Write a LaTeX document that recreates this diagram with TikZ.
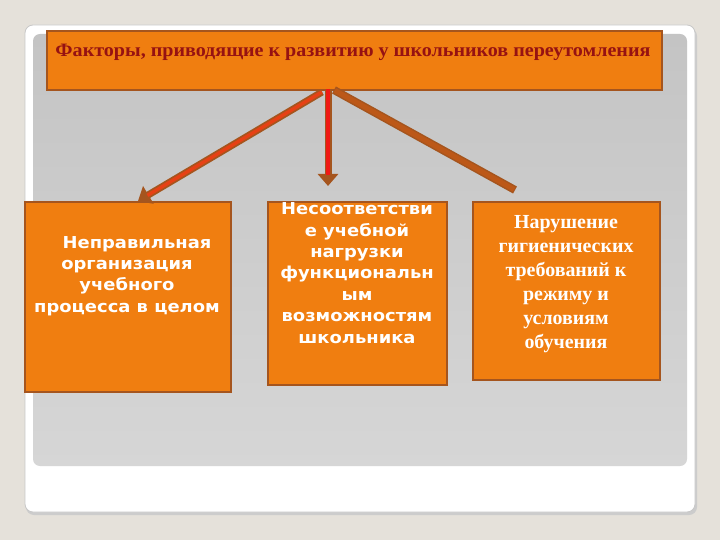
\documentclass[tikz,border=0pt]{standalone}
\usepackage{fontspec}
\setmainfont{Liberation Serif}
\newfontfamily\boxsans[FakeStretch=1.09]{DejaVu Sans}
\newfontfamily\headserif[FakeStretch=1.06]{Liberation Serif}
\usetikzlibrary{arrows.meta}
\definecolor{bgbeige}{RGB}{229,225,218}
\definecolor{cardedge}{RGB}{200,200,200}
\definecolor{paneltop}{RGB}{196,196,196}
\definecolor{panelbot}{RGB}{214,214,214}
\definecolor{orangeF}{RGB}{240,126,16}
\definecolor{edgebrown}{RGB}{165,85,30}
\definecolor{headred}{RGB}{150,18,18}
\definecolor{arrred}{RGB}{240,25,20}
\definecolor{arrorg}{RGB}{230,65,20}
\definecolor{arrbrown}{RGB}{188,88,24}
\tikzset{
  obox/.style={draw=edgebrown, fill=orangeF, line width=2bp, anchor=north west, inner sep=0pt},
  sanstext/.style={text=white, align=center, font=\boxsans\bfseries\fontsize{16.5}{21.5}\selectfont},
  seriftext/.style={text=white, align=center, font=\bfseries\fontsize{20}{24}\selectfont},
  outerarrow/.style={draw=edgebrown, line width=7bp, -{Triangle[length=12bp,width=20bp]}},
  innerline/.style={line width=3.5bp, shorten >=11bp}
}
\begin{document}
\begin{tikzpicture}[x=1bp,y=-1bp]
\fill[bgbeige] (0,0) rectangle (720,540);
\useasboundingbox (0,0) rectangle (720,540);
% card
\fill[black!20, rounded corners=8bp] (26,28) rectangle (697,515);
\draw[fill=white, draw=cardedge, line width=0.8bp, rounded corners=8bp] (25,25) rectangle (695,512);
% panel
\shade[top color=paneltop, bottom color=panelbot, rounded corners=7bp] (33,34) rectangle (687,466);
% header
\node[obox, minimum width=615bp, minimum height=59bp] (head) at (46,30) {};
\node[text=headred, font=\headserif\bfseries\fontsize{19}{22}\selectfont] (headt) at (353,52) {Факторы, приводящие к развитию у школьников переутомления};
% boxes
\node[obox, minimum width=206bp, minimum height=190bp] (b1) at (24,201) {};
\node[obox, minimum width=179bp, minimum height=183bp] (b2) at (267,201) {};
\node[obox, minimum width=187bp, minimum height=178bp] (b3) at (472,201) {};
\node[sanstext] (t1) at (127,276) {\hspace*{20bp}Неправильная\\организация\\учебного\\процесса в целом};
\node[sanstext] (t2) at (357,273) {Несоответстви\\е учебной\\нагрузки\\функциональн\\ым\\возможностям\\школьника};
\node[seriftext] (t3) at (566,284) {Нарушение\\гигиенических\\требований к\\режиму и\\условиям\\обучения};
% arrows
\coordinate (oL) at (322,92);
\coordinate (oM) at (328,89);
\coordinate (oR) at (334,90);
\coordinate (eL) at (138,201);
\coordinate (eM) at (328,186);
\coordinate (eR) at (515,190);
\draw[draw=edgebrown, line width=8bp] (oR) -- (eR);
\draw[arrbrown, line width=5bp, shorten >=1bp, shorten <=1bp] (oR) -- (eR);
\draw[outerarrow] (oL) -- (eL);
\draw[innerline, arrorg] (oL) -- (eL);
\draw[outerarrow] (oM) -- (eM);
\draw[innerline, arrred] (oM) -- (eM);
\end{tikzpicture}
\end{document}
